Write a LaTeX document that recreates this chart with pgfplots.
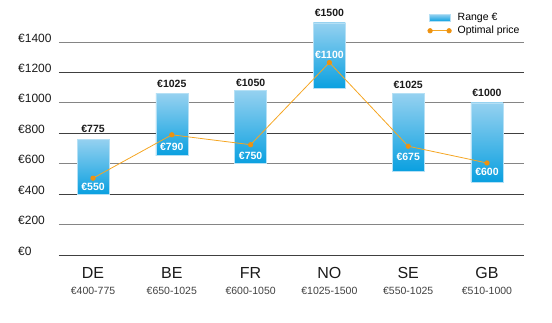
\documentclass[border=0pt]{standalone}
\usepackage{pgfplots}
\pgfplotsset{compat=1.18}
\usepackage{pgfplotstable}
\usepackage{fontspec}
\setmainfont{Liberation Sans}
\definecolor{barTop}{HTML}{95D1F0}
\definecolor{barBot}{HTML}{0AA0E0}
\definecolor{barEdge}{HTML}{B5E0F5}
\definecolor{lineOr}{HTML}{F5A623}
\definecolor{markOr}{HTML}{EE9210}
\definecolor{gridDark}{HTML}{404040}
\definecolor{gridLight}{HTML}{858585}
\definecolor{txt}{HTML}{1A1A1A}

\pgfplotstableread{
x lo range
0 400 362
1 655 405
2 600 480
3 1095 430
4 550 510
5 480 520
}\bars

\pgfplotstableread{
x y
0 505
1 790
2 725
3 1265
4 715
5 605
}\opt

\pgfplotsset{base/.style={scale only axis, width=465pt, height=213pt,
  xmin=-0.432, xmax=5.47, ymin=0, ymax=1400, clip=false,
  axis line style={draw=none}, major tick length=0pt}}
\tikzset{toplab/.style={font=\bfseries\fontsize{10.5}{12}\selectfont, text=txt, inner sep=0pt},
  inlab/.style={font=\bfseries\fontsize{10.5}{12}\selectfont, text=white, inner sep=0pt}}

% one axis per bar, so each bar gets its own gradient
\newcommand\barax[1]{%
\begin{axis}[base, hide axis, ybar stacked, bar width=32pt]
\addplot[draw=none, fill=none, restrict x to domain=#1:#1] table[x=x, y=lo] {\bars};
\addplot[draw=barEdge, line width=0.6pt, top color=barTop, bottom color=barBot, restrict x to domain=#1:#1] table[x=x, y=range] {\bars};
\end{axis}}

\begin{document}
\begin{tikzpicture}
\begin{axis}[base, name=ax,
  ytick={0,200,...,1400},
  yticklabels={€0,€200,€400,€600,€800,€1000,€1200,€1400},
  yticklabel style={anchor=west, xshift=-41pt, inner xsep=0pt, yshift=4pt, font=\fontsize{12}{14}\selectfont, text=txt},
  ymajorgrids, grid style={gridLight, line width=1pt},
  extra y ticks={0,400,800,1200}, extra y tick labels={},
  extra y tick style={grid style={gridDark, line width=1pt}},
  xtick={0,...,5}, xticklabels={DE,BE,FR,NO,SE,GB},
  xticklabel style={anchor=north, inner sep=0pt, yshift=-12pt, font=\fontsize{16}{18}\selectfont, text=txt},
]
\end{axis}
\barax{0}
\barax{1}
\barax{2}
\barax{3}
\barax{4}
\barax{5}
\begin{axis}[base,
  ytick=\empty,
  xtick={0,...,5},
  xticklabels={€400-775,€650-1025,€600-1050,€1025-1500,€550-1025,€510-1000},
  xticklabel style={anchor=north, inner sep=0pt, yshift=-32pt, font=\fontsize{10.5}{12}\selectfont, text=black!75},
  legend style={at={(0.792,1.14)}, anchor=north west, draw=none, fill=none,
    font=\fontsize{10.5}{12}\selectfont, inner sep=0pt, row sep=2pt,
    nodes={inner sep=1pt},
    /tikz/every odd column/.append style={column sep=5pt}},
  legend cell align=left,
]
\addlegendimage{legend image code/.code={\draw[barEdge, line width=0.5pt, top color=barTop, bottom color=barBot] (0pt,-3.5pt) rectangle (21pt,3.5pt);}}
\addlegendentry{Range €}
\addplot[lineOr, line width=0.8pt, mark=*, mark size=2.2pt, mark options={fill=markOr, draw=markOr},
  legend image code/.code={\draw[lineOr, line width=0.8pt] (1pt,0pt) -- (20pt,0pt); \fill[markOr] (1pt,0pt) circle (2.2pt) (20pt,0pt) circle (2.2pt);}]
  table[x=x, y=y] {\opt};
\addlegendentry{Optimal price}
\node[toplab] at (axis cs:0,828) {€775};
\node[toplab] at (axis cs:1,1124) {€1025};
\node[toplab] at (axis cs:2,1130) {€1050};
\node[toplab] at (axis cs:3,1591) {€1500};
\node[toplab] at (axis cs:4,1117) {€1025};
\node[toplab] at (axis cs:5,1065) {€1000};
\node[inlab] at (axis cs:0,447) {€550};
\node[inlab] at (axis cs:1,710) {€790};
\node[inlab] at (axis cs:2,651) {€750};
\node[inlab] at (axis cs:3,1315) {€1100};
\node[inlab] at (axis cs:4,644) {€675};
\node[inlab] at (axis cs:5,546) {€600};
\end{axis}
\pgfresetboundingbox
\path[use as bounding box] ([xshift=-59pt,yshift=-67pt]ax.south west) rectangle ([xshift=28pt,yshift=42pt]ax.north east);
\end{tikzpicture}
\end{document}
